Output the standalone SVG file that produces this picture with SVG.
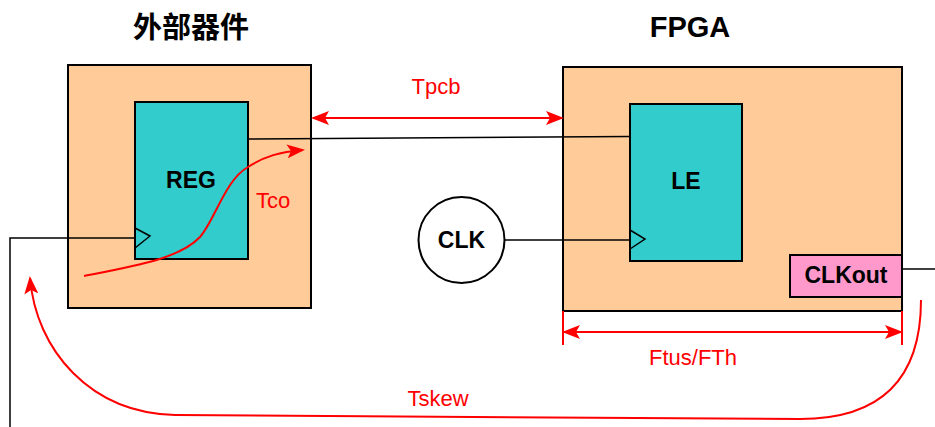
<svg xmlns="http://www.w3.org/2000/svg" width="935" height="427" viewBox="0 0 935 427">
<defs>
<marker id="ah" markerUnits="userSpaceOnUse" markerWidth="18" markerHeight="14" refX="16" refY="7" orient="auto-start-reverse" viewBox="0 0 18 14">
<path d="M0,0 L18,7 L0,14 L4,7 Z" fill="#FF0000"/>
</marker>
<style>
.outer{fill:#FFCC99;stroke:#000;stroke-width:2}
.blk{fill:#33CCCC;stroke:#000;stroke-width:2}
.w{fill:none;stroke:#000;stroke-width:1.5}
.r{fill:none;stroke:#FF0000;stroke-width:2}
.lb{font-family:"Liberation Sans",Arial,sans-serif;font-weight:bold;font-size:23px;fill:#000;text-anchor:middle}
.rt{font-family:"Liberation Sans",Arial,sans-serif;font-size:22px;fill:#FF0000;text-anchor:middle}
.tt{font-family:"Liberation Sans","Noto Sans CJK SC",sans-serif;font-weight:bold;font-size:29px;fill:#000;text-anchor:middle}
</style>
</defs>
<text class="tt" x="191" y="38">外部器件</text>
<text class="tt" x="690" y="37">FPGA</text>
<g id="ext">
<rect class="outer" x="68" y="65" width="243" height="243"/>
</g>
<g id="reg">
<rect class="blk" x="135" y="102" width="113" height="157"/>
<path class="w" d="M135,228 L150,236 L135,248"/>
<text class="lb" x="191" y="188">REG</text>
</g>
<g id="fpga">
<rect class="outer" x="563" y="67" width="339" height="244"/>
</g>
<g id="le">
<rect class="blk" x="630" y="104" width="112" height="157"/>
<path class="w" d="M630,230 L645,239 L630,249"/>
<text class="lb" x="686" y="189">LE</text>
</g>
<g id="clkout">
<rect x="790" y="255" width="112" height="42" fill="#FF99CC" stroke="#000" stroke-width="2"/>
<text class="lb" x="846" y="283">CLKout</text>
</g>
<g id="clk">
<circle cx="461.5" cy="240" r="43" fill="#fff" stroke="#000" stroke-width="2"/>
<text class="lb" x="461.5" y="248">CLK</text>
</g>
<g id="connectors">
<path class="w" d="M248,139 L630,136.5"/>
<path class="w" d="M505,240 L630,240"/>
<path class="w" d="M135,238 L10,238 L10,427"/>
<path class="w" d="M902,269 L935,269"/>
<path class="r" d="M313,118 L562,118" marker-start="url(#ah)" marker-end="url(#ah)"/>
<path class="r" d="M563,311 L563,345 M902,311 L902,345" stroke-width="1.5"/>
<path class="r" d="M564,332 L901,332" marker-start="url(#ah)" marker-end="url(#ah)"/>
<path class="r" d="M84,276 C140,265 180,258 200,237 C215,220 225,180 248,167 C265,156 280,152 303,150" marker-end="url(#ah)"/>
<path class="r" d="M921,300 C921,380 880,419 800,419 L175,415 C90,413 36,350 30,278" marker-end="url(#ah)"/>
<text class="rt" x="436" y="94">Tpcb</text>
<text class="rt" x="273" y="208">Tco</text>
<text class="rt" x="693" y="365">Ftus/FTh</text>
<text class="rt" x="438" y="406">Tskew</text>
</g>
</svg>
